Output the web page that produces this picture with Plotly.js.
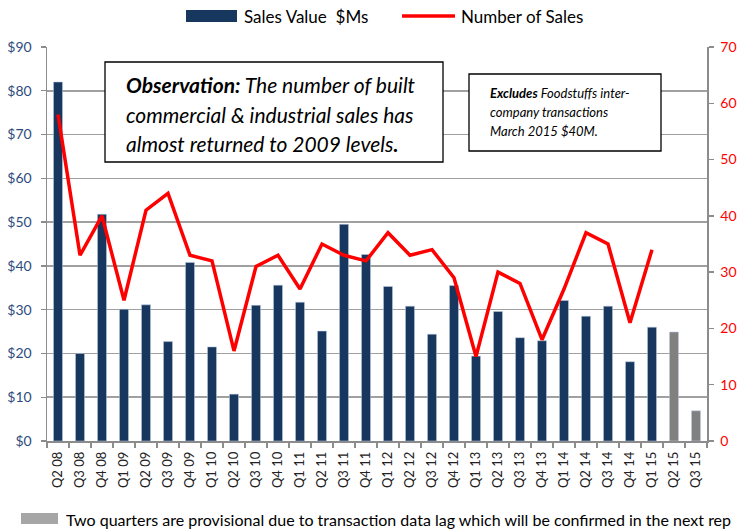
<!DOCTYPE html>
<html>
<head>
<meta charset="utf-8">
<script src="https://cdn.plot.ly/plotly-3.0.1.min.js"></script>
<style>html,body{margin:0;padding:0;background:#fff;}#chart{width:740px;height:530px;}</style>
</head>
<body>
<div id="chart"></div>
<script>
// ---- data ----
const quarters = ["Q2 08","Q3 08","Q4 08","Q1 09","Q2 09","Q3 09","Q4 09","Q1 10","Q2 10","Q3 10",
  "Q4 10","Q1 11","Q2 11","Q3 11","Q4 11","Q1 12","Q2 12","Q3 12","Q4 12","Q1 13",
  "Q2 13","Q3 13","Q4 13","Q1 14","Q2 14","Q3 14","Q4 14","Q1 15","Q2 15","Q3 15"];
const salesValue = [82,20,51.8,30.1,31.1,22.7,40.8,21.5,10.7,31,
  35.6,31.7,25.1,49.5,42.6,35.3,30.8,24.4,35.5,19.4,
  29.6,23.6,22.9,32.1,28.5,30.8,18.1,26,24.9,6.9];
const numberOfSales = [58,33,40,25,41,44,33,32,16,31,
  33,27,35,33,32,37,33,34,29,15,
  30,28,18,27,37,35,21,34,null,null];
const provisional = ["Q2 15","Q3 15"];
const leftTicks = [0,10,20,30,40,50,60,70,80,90];
const rightTicks = [0,10,20,30,40,50,60,70];

// ---- styling ----
const NAVY = "#17375E", GREY = "#808080", RED = "#FF0000";
const FONT = "Lato, 'Open Sans', sans-serif";
const L = 47, R = 707, T = 47, B = 441;
const px = v => (v - L) / (R - L);
const py = v => (B - v) / (B - T);

const barColors = quarters.map(q => provisional.includes(q) ? GREY : NAVY);

const traces = [
  {type: "bar", x: quarters, y: salesValue, name: "Sales Value  $Ms",
   marker: {color: barColors, line: {color: "rgba(190,205,225,0.9)", width: 0.6}},
   hoverinfo: "x+y"},
  {type: "scatter", mode: "lines", x: quarters, y: numberOfSales, yaxis: "y2",
   name: "Number of Sales", line: {color: RED, width: 3.5}, connectgaps: false}
];

function txt(text, x, y, size, extra) {
  return Object.assign({text: text, xref: "paper", yref: "paper", x: px(x), y: py(y),
    xanchor: "left", yanchor: "middle", showarrow: false,
    font: {family: FONT, size: size, color: "#000"}}, extra || {});
}

const annotations = [
  txt("Sales Value\u00a0 $Ms", 242, 16, 17),
  txt("Number of Sales", 459, 16, 17),
  txt("<i><b>Observation:</b> The number of built</i>", 124, 84, 21),
  txt("<i>commercial &amp; industrial sales has</i>", 124, 114, 21),
  txt("<i>almost returned to 2009 levels<b>.</b></i>", 124, 143, 21),
  txt("<i><b>Excludes</b> Foodstuffs inter-</i>", 488, 93, 13),
  txt("<i>company transactions</i>", 488, 112, 13),
  txt("<i>March 2015 $40M.</i>", 488, 131, 13),
  txt("Two quarters are provisional due to transaction data lag which will be confirmed in the next rep", 64, 519, 16)
];

const shapes = [
  {type: "rect", xref: "paper", yref: "paper", x0: px(186), x1: px(237), y0: py(10), y1: py(22),
   fillcolor: NAVY, line: {width: 0}},
  {type: "line", xref: "paper", yref: "paper", x0: px(402), x1: px(455), y0: py(16), y1: py(16),
   line: {color: RED, width: 3.5}},
  {type: "rect", xref: "paper", yref: "paper", x0: px(105), x1: px(443), y0: py(62), y1: py(162),
   fillcolor: "#fff", line: {color: "#000", width: 1.3}},
  {type: "rect", xref: "paper", yref: "paper", x0: px(469), x1: px(661), y0: py(74), y1: py(151),
   fillcolor: "#fff", line: {color: "#000", width: 1.3}},
  {type: "rect", xref: "paper", yref: "paper", x0: px(21), x1: px(58), y0: py(513), y1: py(524),
   fillcolor: "#A6A6A6", line: {width: 0}}
];

const layout = {
  width: 740, height: 530,
  margin: {l: L, r: 740 - R, t: T, b: 530 - B, pad: 0},
  paper_bgcolor: "#fff", plot_bgcolor: "#fff",
  showlegend: false,
  bargap: 0.59,
  font: {family: FONT, color: "#000"},
  xaxis: {type: "category", showline: true, linecolor: "#8C8C8C", linewidth: 1.5,
    ticks: "outside", tickson: "boundaries", ticklen: 5, tickcolor: "#8C8C8C", tickwidth: 1.3,
    tickangle: -90, ticklabelstandoff: 4, tickfont: {family: FONT, size: 13, color: "#222"}, showgrid: false,
    range: [-0.5, quarters.length - 0.5]},
  yaxis: {range: [0, 90], tickvals: leftTicks, ticktext: leftTicks.map(v => "$" + v),
    showgrid: true, gridcolor: "#A0A0A0", gridwidth: 1.5, zeroline: false,
    showline: true, linecolor: "#8C8C8C", linewidth: 1.5, ticks: "outside", ticklen: 5,
    tickcolor: "#8C8C8C", tickwidth: 1.3, ticklabelstandoff: 6,
    tickfont: {family: FONT, size: 14, color: "#2E4B7D"}},
  yaxis2: {range: [0, 70], tickvals: rightTicks, overlaying: "y", side: "right",
    showgrid: false, zeroline: false, showline: true, linecolor: "#8C8C8C", linewidth: 1.5,
    ticks: "outside", ticklen: 5, tickcolor: "#8C8C8C", tickwidth: 1.3, ticklabelstandoff: 4,
    tickfont: {family: FONT, size: 14, color: RED}},
  shapes: shapes,
  annotations: annotations
};

Plotly.newPlot("chart", traces, layout, {displayModeBar: false, staticPlot: true});
</script>
</body>
</html>
